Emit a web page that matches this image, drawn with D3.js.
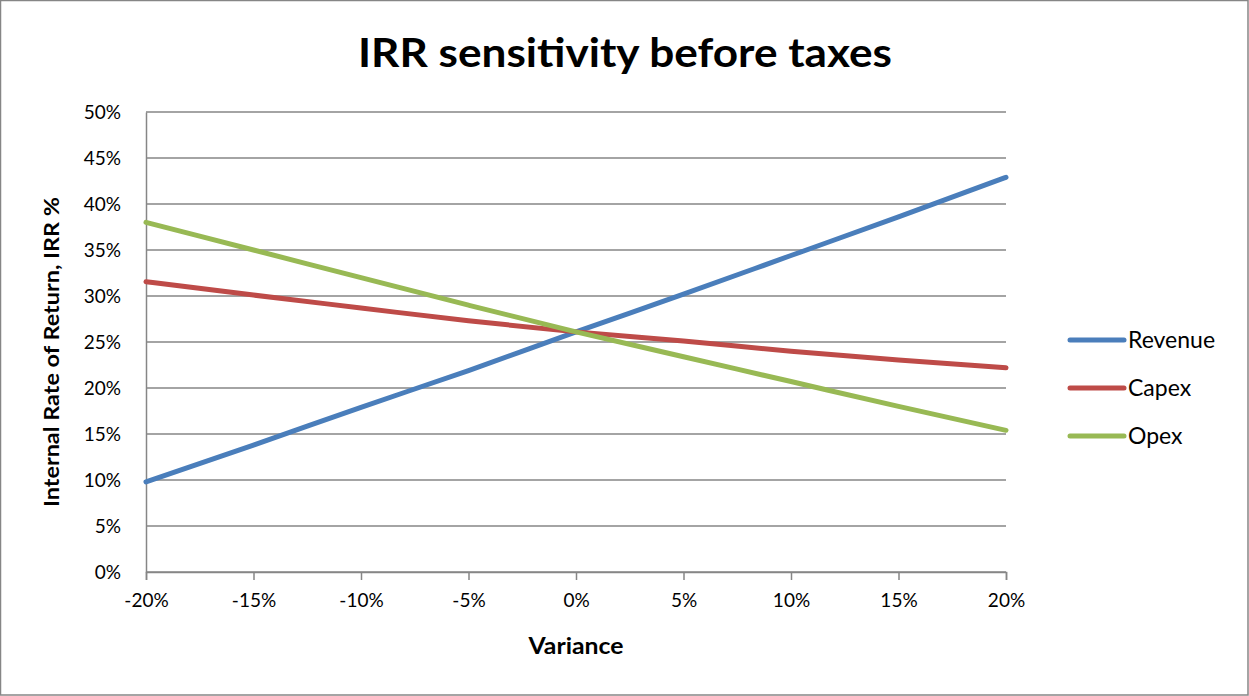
<!DOCTYPE html>
<html>
<head>
<meta charset="utf-8">
<script src="https://cdn.jsdelivr.net/npm/d3@7"></script>
<style>
  html, body { margin: 0; padding: 0; background: #fff; }
  svg { display: block; }
  text { font-family: Lato, "Open Sans", sans-serif; fill: #000; }
</style>
</head>
<body>
<svg id="chart" width="1249" height="696"></svg>
<script>
// Variance steps on the x axis (fraction)
const variance = [-0.20, -0.15, -0.10, -0.05, 0, 0.05, 0.10, 0.15, 0.20];

// IRR before taxes for each variance step (%)
const revenueIRR = [9.8, 13.8, 17.9, 21.9, 26.1, 30.2, 34.4, 38.6, 42.9];
const capexIRR   = [31.55, 30.1, 28.7, 27.3, 26.1, 25.1, 24.0, 23.05, 22.2];
const opexIRR    = [38.0, 35.0, 32.0, 29.0, 26.1, 23.4, 20.7, 18.0, 15.4];

const seriesNames  = ["Revenue", "Capex", "Opex"];
const seriesColors = ["#4A7EBB", "#BE4B48", "#98B954"];
const yTicks = [0, 5, 10, 15, 20, 25, 30, 35, 40, 45, 50];

const svg = d3.select("#chart");
const W = 1249, H = 696;
const plot = { left: 146, right: 1006, top: 112, bottom: 572 };

// chart area border
svg.append("rect")
  .attr("x", 0.5).attr("y", 0.5)
  .attr("width", W - 1.5).attr("height", H - 1.5)
  .attr("fill", "#fff").attr("stroke", "#868686").attr("stroke-width", 1.5);

const x = d3.scaleLinear().domain([-0.20, 0.20]).range([plot.left, plot.right]);
const y = d3.scaleLinear().domain([0, 50]).range([plot.bottom, plot.top]);

// horizontal gridlines
svg.append("g")
  .selectAll("line")
  .data(yTicks)
  .join("line")
  .attr("x1", plot.left).attr("x2", plot.right)
  .attr("y1", d => y(d)).attr("y2", d => y(d))
  .attr("stroke", "#868686").attr("stroke-width", 1.5);

// y axis
const yAxis = svg.append("g")
  .attr("transform", `translate(${plot.left},0)`)
  .call(d3.axisLeft(y).tickValues(yTicks).tickSize(0).tickPadding(25)
    .tickFormat(d => d + "%"));
yAxis.select(".domain").attr("stroke", "#868686").attr("stroke-width", 1.5);
yAxis.selectAll("text")
  .style("font-family", "Lato, sans-serif")
  .style("font-size", "19px").attr("fill", "#000");

// x axis
const xAxis = svg.append("g")
  .attr("transform", `translate(0,${plot.bottom})`)
  .call(d3.axisBottom(x).tickValues(variance).tickSize(8).tickPadding(14)
    .tickFormat(d => Math.round(d * 100) + "%"));
xAxis.select(".domain").attr("stroke", "#868686").attr("stroke-width", 1.5);
xAxis.selectAll(".tick line").attr("stroke", "#868686").attr("stroke-width", 1.5);
xAxis.selectAll("text")
  .style("font-family", "Lato, sans-serif")
  .style("font-size", "19px").attr("fill", "#000");

// series lines
const allSeries = [revenueIRR, capexIRR, opexIRR];
const line = d3.line()
  .x((d, i) => x(variance[i]))
  .y(d => y(d))
  .curve(d3.curveMonotoneX);

svg.append("g")
  .selectAll("path")
  .data(allSeries)
  .join("path")
  .attr("d", d => line(d))
  .attr("fill", "none")
  .attr("stroke", (d, i) => seriesColors[i])
  .attr("stroke-width", 5)
  .attr("stroke-linecap", "round")
  .attr("stroke-linejoin", "round");

// title
svg.append("text")
  .attr("x", 625).attr("y", 67)
  .attr("text-anchor", "middle")
  .attr("textLength", 534).attr("lengthAdjust", "spacingAndGlyphs")
  .style("font-size", "40px").style("font-weight", "bold")
  .text("IRR sensitivity before taxes");

// axis titles
svg.append("text")
  .attr("x", x(0)).attr("y", 654)
  .attr("text-anchor", "middle")
  .attr("textLength", 95).attr("lengthAdjust", "spacingAndGlyphs")
  .style("font-size", "22px").style("font-weight", "bold")
  .text("Variance");

svg.append("text")
  .attr("transform", `translate(59,352) rotate(-90)`)
  .attr("text-anchor", "middle")
  .attr("textLength", 310).attr("lengthAdjust", "spacingAndGlyphs")
  .style("font-size", "21px").style("font-weight", "bold")
  .text("Internal Rate of Return, IRR %");

// legend
const legend = svg.append("g")
  .selectAll("g")
  .data(seriesNames)
  .join("g")
  .attr("transform", (d, i) => `translate(1070,${340 + i * 48})`);
legend.append("line")
  .attr("x1", 0).attr("x2", 54)
  .attr("stroke", (d, i) => seriesColors[i])
  .attr("stroke-width", 5).attr("stroke-linecap", "round");
legend.append("text")
  .attr("x", 58).attr("y", 8)
  .style("font-size", "23px")
  .text(d => d);
</script>
</body>
</html>
